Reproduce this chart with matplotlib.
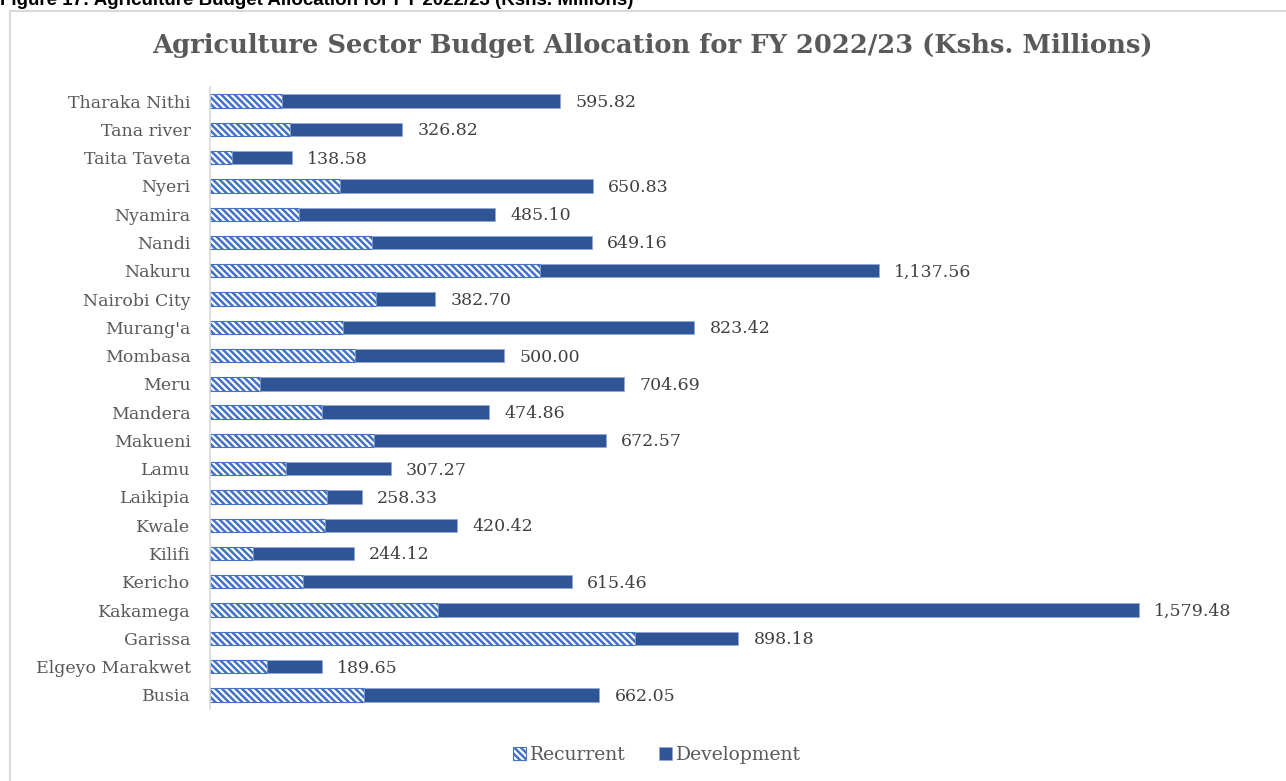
import matplotlib.pyplot as plt
import matplotlib.patches as mpatches
import numpy as np

counties = ['Tharaka Nithi', 'Tana river', 'Taita Taveta', 'Nyeri', 'Nyamira', 'Nandi',
            'Nakuru', 'Nairobi City', "Murang'a", 'Mombasa', 'Meru', 'Mandera', 'Makueni',
            'Lamu', 'Laikipia', 'Kwale', 'Kilifi', 'Kericho', 'Kakamega', 'Garissa',
            'Elgeyo Marakwet', 'Busia']
totals = [595.82, 326.82, 138.58, 650.83, 485.10, 649.16, 1137.56, 382.70, 823.42, 500.00,
          704.69, 474.86, 672.57, 307.27, 258.33, 420.42, 244.12, 615.46, 1579.48, 898.18,
          189.65, 662.05]
recurrent = [122, 136, 37, 221, 151, 275, 561, 282, 226, 247, 85, 190, 279, 129, 199, 196,
             73, 158, 388, 722, 97, 262]
development = [t - r for t, r in zip(totals, recurrent)]

plt.rcParams['hatch.linewidth'] = 1.8
plt.rcParams['hatch.color'] = '#4472C4'
serif = ['DejaVu Serif']
grey = '#595959'
dark = '#2F5597'

fig = plt.figure(figsize=(12.86, 7.81), dpi=100)
W, H = 1286, 781

# outer chart border
fig.patches.append(mpatches.Rectangle((10 / W, -0.05), 1.2, 1 - 11 / H + 0.05,
                                      transform=fig.transFigure, fill=False,
                                      edgecolor='#D9D9D9', linewidth=1.5))
fig.text(0.0, 1 - 5 / H, 'Figure 17: Agriculture Budget Allocation for FY 2022/23 (Kshs. Millions)',
         fontsize=13.5, fontweight='bold', family='Liberation Sans', va='baseline', ha='left')
fig.text(652 / W, 1 - 45 / H, 'Agriculture Sector Budget Allocation for FY 2022/23 (Kshs. Millions)',
         fontsize=18.5, fontweight='bold', family=serif, color=grey, ha='center', va='center')

ax = fig.add_axes([210 / W, 1 - 709 / H, 1040 / W, 622 / H])
y = np.arange(len(counties))
ax.barh(y, recurrent, height=0.47, color='white', edgecolor='#4472C4', linewidth=0.8,
        hatch='\\\\\\\\\\', label='Recurrent')
ax.barh(y, development, left=recurrent, height=0.47, color=dark, edgecolor='#8FAADC',
        linewidth=0.5, label='Development')

for yi, t in zip(y, totals):
    ax.text(t + 26, yi + 0.05, f'{t:,.2f}', va='center', ha='left', fontsize=12.5,
            family=serif, color='#404040')

ax.set_xlim(0, 1040 / 0.5882)
ax.set_ylim(21.5, -0.5)
ax.set_yticks(y)
ax.set_yticklabels(counties, fontsize=12.5, family=serif, color=grey)
ax.tick_params(axis='y', length=0, pad=14)
ax.set_xticks([])
for s in ['top', 'right', 'bottom']:
    ax.spines[s].set_visible(False)
ax.spines['left'].set_color('#D9D9D9')
ax.spines['left'].set_linewidth(1.2)

leg = fig.legend(loc='center', bbox_to_anchor=(657 / W, 1 - 755 / H), ncol=2, frameon=False,
                 prop={'family': serif, 'size': 13.5}, handlelength=0.7, handleheight=0.7,
                 handletextpad=0.2, columnspacing=1.8)
for t in leg.get_texts():
    t.set_color(grey)

fig.savefig('out.png', dpi=100)
